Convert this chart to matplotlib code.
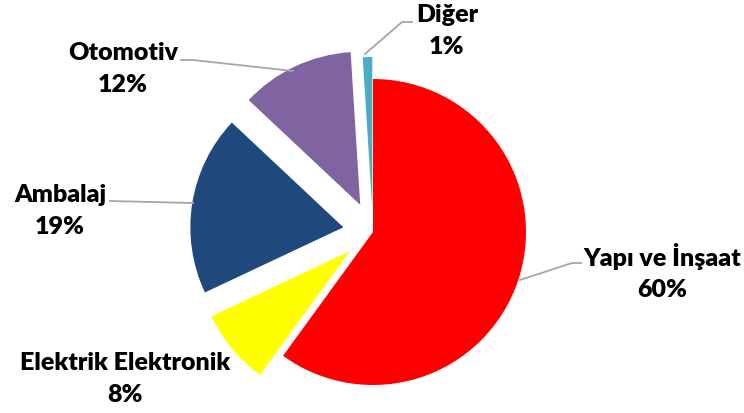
import matplotlib
matplotlib.use("Agg")
import matplotlib.pyplot as plt

# sector shares (%) - clockwise from the top
labels = ["Yapı ve İnşaat", "Elektrik Elektronik", "Ambalaj", "Otomotiv", "Diğer"]
shares = [60, 8, 19, 12, 1]
colors = ["#FF0000", "#FFFF00", "#1F497D", "#8064A2", "#4BACC6"]
explode = [0, 30, 30, 30, 22]

# label anchor (pixel coords of the image) and leader line points
label_pos = [(662, 272), (125, 379), (60, 211), (123, 69), (447, 31)]
leaders = [
    [(520, 280), (572, 263), (581, 263)],
    None,
    [(193, 203), (110, 201)],
    [(293, 71), (193, 60), (181, 60)],
    [(365, 54), (402, 22), (412, 22)],
]

fig = plt.figure(figsize=(7.44, 4.13), dpi=100)
ax = fig.add_axes([0, 0, 1, 1])

ax.pie(shares, colors=colors, explode=explode, startangle=-90, counterclock=True,
       center=(373, 232), radius=153, frame=True,
       wedgeprops=dict(linewidth=0))
ax.set_xlim(0, 744)
ax.set_ylim(413, 0)  # y down, so the pie runs clockwise with counterclock=True
ax.set_aspect("equal")
ax.axis("off")

for name, val, (tx, ty), pts in zip(labels, shares, label_pos, leaders):
    ax.text(tx, ty, f"{name}\n{val}%", ha="center", va="center",
            fontsize=18, fontweight="heavy", family="Lato", color="#000000",
            linespacing=1.5)
    if pts:
        ax.plot([p[0] for p in pts], [p[1] for p in pts], color="#A6A6A6", lw=1.3)

fig.savefig("out.png", dpi=100)
